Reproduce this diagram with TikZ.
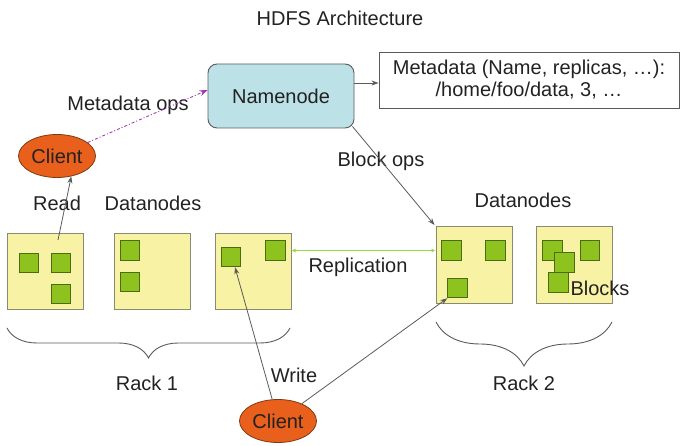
\documentclass[tikz,border=0pt]{standalone}
\usepackage{fontspec}
\setmainfont{Liberation Sans}
\usetikzlibrary{arrows.meta,decorations.pathreplacing,shapes.geometric}
\definecolor{nnfill}{HTML}{BCE2E8}
\definecolor{clientfill}{HTML}{E8601C}
\definecolor{clientdraw}{HTML}{7A3A14}
\definecolor{dnfill}{HTML}{F8F2A4}
\definecolor{dndraw}{HTML}{8A8A70}
\definecolor{blkfill}{HTML}{8DC21F}
\definecolor{blkdraw}{HTML}{4D6B12}
\definecolor{repgreen}{HTML}{9AD83C}
\definecolor{metapurple}{HTML}{A23BB4}
\definecolor{edgegray}{HTML}{5A5A5A}
\definecolor{textgray}{HTML}{222222}
\begin{document}
\begin{tikzpicture}[x=1pt,y=-1pt,
  font=\fontsize{20}{23}\selectfont, text=textgray,
  lbl/.style={inner sep=0pt},
  nnbox/.style={draw=edgegray, fill=nnfill, rounded corners=9pt, line width=0.9pt,
    minimum width=146pt, minimum height=64pt, inner sep=0pt},
  metabox/.style={draw=edgegray, line width=0.9pt, minimum width=300pt,
    minimum height=56pt, inner sep=0pt, align=center},
  clientnode/.style={ellipse, draw=clientdraw, fill=clientfill, line width=0.8pt,
    minimum width=77pt, minimum height=43pt, inner sep=0pt},
  dnbox/.style={draw=dndraw, fill=dnfill, line width=1pt,
    minimum width=76pt, minimum height=76pt, inner sep=0pt},
  blk/.style={draw=blkdraw, fill=blkfill, line width=0.9pt,
    minimum size=19.5pt, inner sep=0pt},
  conn/.style={draw=edgegray, line width=0.8pt},
  tipped/.style={conn, -{Stealth[length=7pt,width=5pt]}},
  metaops/.style={draw=metapurple, line width=0.9pt, dash pattern=on 3pt off 2pt on 1pt off 2pt,
    -{Stealth[length=8pt,width=6pt]}},
  repl/.style={draw=repgreen, line width=1pt,
    {Latex[length=4pt,width=4pt]}-{Latex[length=4pt,width=4pt]}},
  rackbrace/.style={draw=edgegray, line width=0.9pt, decorate}
]
\useasboundingbox (0,0) rectangle (681,446);

% title
\node[lbl] (title) at (340,18) {HDFS Architecture};

% namenode and metadata
\node[nnbox] (namenode) at (281,96) {Namenode};
\node[metabox] (meta) at (529,80) {Metadata (Name, replicas, …):\\[-1pt]/home/foo/data, 3, …};

% clients
\node[clientnode] (client1) at (57,156) {Client};
\node[clientnode] (client2) at (278,421) {Client};

% datanodes rack 1
\node[dnbox] (d1) at (45,272) {};
\node[dnbox] (d2) at (152,272) {};
\node[dnbox] (d3) at (253,272) {};
% datanodes rack 2
\node[dnbox, minimum height=77pt] (r1) at (474,265.5) {};
\node[dnbox, minimum height=77pt] (r2) at (574,265.5) {};

% blocks
\node[blk] (b11) at (29,263) {};
\node[blk] (b12) at (61,263) {};
\node[blk] (b13) at (61,294) {};
\node[blk] (b21) at (130,250.5) {};
\node[blk] (b22) at (130,282) {};
\node[blk] (b31) at (231,257) {};
\node[blk] (b32) at (275.5,250.5) {};
\node[blk] (c11) at (451.5,250.5) {};
\node[blk] (c12) at (495.5,250.5) {};
\node[blk] (c13) at (457.5,288) {};
\node[blk] (c21) at (552.5,250.5) {};
\node[blk] (c22) at (590,250.5) {};
\node[blk] (c23) at (564.5,262.5) {};
\node[blk] (c24) at (558.5,282.5) {};

% labels
\node[lbl] (lmetaops) at (128,105) {Metadata ops};
\node[lbl] (lblockops) at (381,161) {Block ops};
\node[lbl] (lread) at (57,203) {Read};
\node[lbl] (ldn1) at (153,203) {Datanodes};
\node[lbl] (ldn2) at (523,200) {Datanodes};
\node[lbl] (lrepl) at (358,267) {Replication};
\node[lbl] (lrack1) at (147,383) {Rack 1};
\node[lbl] (lrack2) at (524,383) {Rack 2};
\node[lbl] (lwrite) at (294,375) {Write};
\node[lbl] (lblocks) at (600,288) {Blocks};

% connectors
\draw[metaops] (client1) -- ([yshift=6pt]namenode.west);
\draw[tipped] ([yshift=13pt]namenode.east) -- ([yshift=13pt]namenode.east -| meta.west);
\draw[tipped] ([shift={(-2pt,2pt)}]namenode.south east) -- ([shift={(-1pt,1.5pt)}]r1.north west);
\coordinate (readS) at (58,240);
\draw[tipped] (readS) -- (client1.-55);
\draw[tipped] (client2.105) -- ([xshift=4pt]b31.south);
\draw[tipped] (client2.36) -- (c13.south west);
\draw[repl] (b32.east -| d3.east) -- (b32.east -| r1.west);

% braces
\coordinate (br1a) at (7,328);
\coordinate (br1b) at (290,328);
\coordinate (br2a) at (436,322);
\coordinate (br2b) at (612,322);
\draw[rackbrace, decoration={brace, mirror, amplitude=30pt}] (br1a) -- (br1b);
\draw[rackbrace, decoration={brace, mirror, amplitude=44pt}] (br2a) -- (br2b);
\end{tikzpicture}
\end{document}
